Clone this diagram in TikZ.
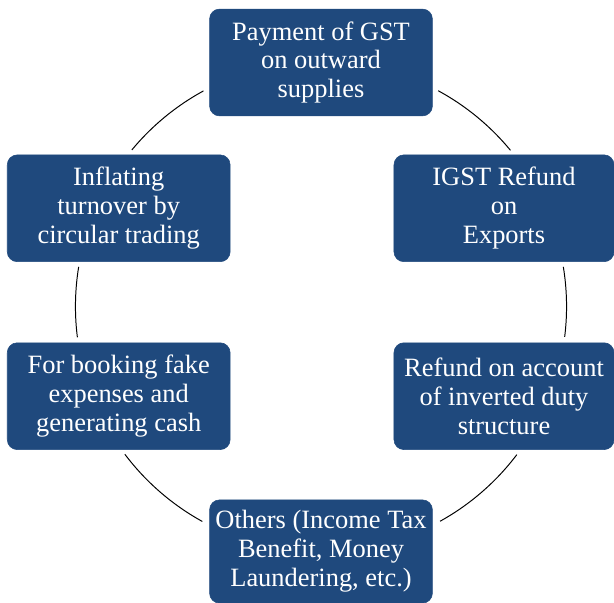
\documentclass[tikz,border=0pt]{standalone}
\usepackage{fontspec}
\setmainfont{Liberation Serif}
\usetikzlibrary{positioning}
\definecolor{boxblue}{RGB}{31,73,125}

\begin{document}
\begin{tikzpicture}[x=0.025cm,y=-0.025cm,
	box/.style={draw=boxblue,fill=boxblue,text=white,rounded corners=0.25cm,
		align=center,inner sep=0pt,minimum width=5.57cm,minimum height=2.67cm,
		font=\fontsize{18.8}{20.6}\selectfont},
	link/.style={draw=black,line width=0.7pt}]
				\useasboundingbox (0,0) rectangle (614,603);
				\coordinate (C) at (321,306.5);
				\node[box] (pay) at (321,62.5) {Payment of GST\\on outward\\supplies};
				\node[box,minimum width=5.5cm] (igst) at (504,208.3) {IGST Refund\\on\\Exports};
				\node[box,minimum width=5.5cm] (inv) at (504,396.2) {Refund on account\\of inverted duty\\structure};
				\node[box,minimum height=2.58cm] (oth) at (321,551.5) {Others (Income Tax\\Benefit, Money\\Laundering, etc.)};
				\node[box] (fake) at (118.7,396.2) {For booking fake\\expenses and\\generating cash};
				\node[box] (circ) at (118.7,208.3) {Inflating\\turnover by\\circular trading};
				% arcs of the cycle, clockwise from the top
				\foreach \a/\b in {61.5/39.5,9.3/-7.1,-37.1/-61,-118.9/-143,-172.8/-189.3,140.4/118.6}{
					\draw[link] ([shift={(\a:6.1375cm)}]C) arc[start angle=\a,end angle=\b,radius=6.1375cm];
				}
\end{tikzpicture}
\end{document}
